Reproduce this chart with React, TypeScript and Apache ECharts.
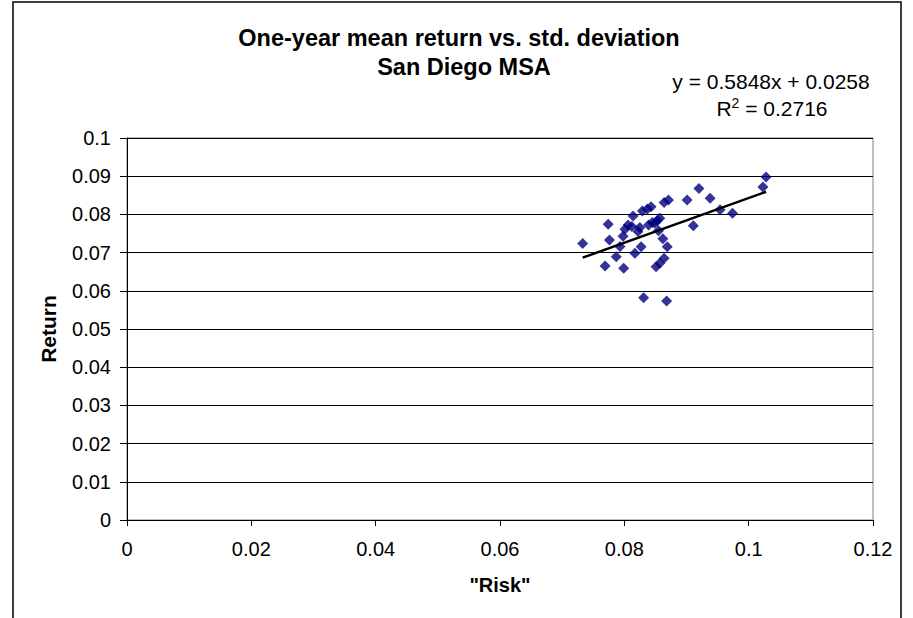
import React, { useEffect, useRef } from "react";
import * as echarts from "echarts";

const titleLines = ["One-year mean return vs. std. deviation", "San Diego MSA"];
const xAxisName = '"Risk"';
const yAxisName = "Return";
const riskValues = [
  0.0733, 0.0774, 0.0776, 0.0769, 0.0787, 0.0799, 0.0793, 0.0798, 0.0801, 0.0806,
  0.0814, 0.0817, 0.0825, 0.0827, 0.0822, 0.0829, 0.0837, 0.0843, 0.0839, 0.0849,
  0.0857, 0.0864, 0.0871, 0.0855, 0.0862, 0.0869, 0.0851, 0.0857, 0.0864, 0.0831,
  0.0868, 0.0901, 0.0920, 0.0938, 0.0911, 0.0954, 0.0974, 0.1023, 0.1028, 0.0812,
  0.0845, 0.0853,
];
const returnValues = [
  0.0724, 0.0774, 0.0733, 0.0665, 0.0689, 0.0659, 0.0716, 0.0743, 0.0761, 0.0772,
  0.0796, 0.0698, 0.0766, 0.0715, 0.0755, 0.0809, 0.0814, 0.0820, 0.0772, 0.0777,
  0.0790, 0.0831, 0.0838, 0.0757, 0.0736, 0.0715, 0.0663, 0.0672, 0.0685, 0.0582,
  0.0573, 0.0838, 0.0868, 0.0842, 0.0770, 0.0812, 0.0803, 0.0872, 0.0898, 0.0768,
  0.0779, 0.0784,
];
const trendSlope = 0.5848;
const trendIntercept = 0.0258;
const trendRange = [0.0733, 0.1028];
const equationText = "y = 0.5848x + 0.0258";
const r2Text = "0.2716";
const xTicks = [0, 0.02, 0.04, 0.06, 0.08, 0.1, 0.12];
const yTicks = [0, 0.01, 0.02, 0.03, 0.04, 0.05, 0.06, 0.07, 0.08, 0.09, 0.1];

export default function App() {
  const ref = useRef<HTMLDivElement>(null);
  useEffect(() => {
    if (!ref.current) return;
    const chart = echarts.init(ref.current, null, { renderer: "svg" });
    const font = "'Liberation Sans', Arial, sans-serif";
    const points = riskValues.map((x, i) => [x, returnValues[i]]);
    const trend = trendRange.map((x) => [x, trendSlope * x + trendIntercept]);
    chart.setOption({
      animation: false,
      backgroundColor: "#ffffff",
      grid: { left: 127, right: 40, top: 138, bottom: 98, show: true, borderColor: "#808080", borderWidth: 1 },
      graphic: [
        {
          type: "rect",
          shape: { x: 13, y: 2, width: 888, height: 630 },
          style: { fill: "none", stroke: "#000", lineWidth: 1.5 },
          silent: true,
        },
        {
          type: "text",
          x: 459,
          y: 38,
          style: { text: titleLines[0], font: `bold 23.5px ${font}`, fill: "#000", align: "center", verticalAlign: "middle" },
        },
        {
          type: "text",
          x: 464,
          y: 67,
          style: { text: titleLines[1], font: `bold 23.5px ${font}`, fill: "#000", align: "center", verticalAlign: "middle" },
        },
        {
          type: "text",
          x: 771,
          y: 81,
          style: { text: equationText, font: `21px ${font}`, fill: "#000", align: "center", verticalAlign: "middle" },
        },
        {
          type: "text",
          x: 772,
          y: 108,
          style: {
            text: "R{sup|2} = " + r2Text,
            font: `21px ${font}`,
            fill: "#000",
            align: "center",
            verticalAlign: "middle",
            rich: {
              sup: { fontSize: 14, verticalAlign: "top", padding: [0, 0, 10, 0], fontFamily: font },
            },
          },
        },
      ],
      xAxis: {
        type: "value",
        min: xTicks[0],
        max: xTicks[xTicks.length - 1],
        interval: 0.02,
        name: xAxisName,
        nameLocation: "middle",
        nameGap: 55,
        nameTextStyle: { fontFamily: font, fontSize: 20, fontWeight: "bold", color: "#000" },
        axisLine: { lineStyle: { color: "#000", width: 1 } },
        axisTick: { show: true, inside: false, length: 6, lineStyle: { color: "#000" } },
        axisLabel: { fontFamily: font, fontSize: 20, color: "#000", margin: 19, formatter: (v: number) => String(+v.toFixed(2)) },
        splitLine: { show: false },
      },
      yAxis: {
        type: "value",
        min: yTicks[0],
        max: yTicks[yTicks.length - 1],
        interval: 0.01,
        name: yAxisName,
        nameLocation: "middle",
        nameGap: 68,
        nameRotate: 90,
        nameTextStyle: { fontFamily: font, fontSize: 21, fontWeight: "bold", color: "#000" },
        axisLine: { show: true, lineStyle: { color: "#000", width: 1 } },
        axisTick: { show: true, inside: false, length: 7, lineStyle: { color: "#000" } },
        axisLabel: { fontFamily: font, fontSize: 20, color: "#000", margin: 16, formatter: (v: number) => String(+v.toFixed(2)) },
        splitLine: { show: true, lineStyle: { color: "#000", width: 1 } },
      },
      series: [
        {
          type: "scatter",
          data: points,
          symbol: "diamond",
          symbolSize: 11,
          itemStyle: { color: "#000080" },
          z: 3,
        },
        {
          type: "line",
          data: trend,
          symbol: "none",
          lineStyle: { color: "#000", width: 2.5 },
          z: 4,
        },
      ],
    });
    return () => chart.dispose();
  }, []);
  return <div ref={ref} style={{ position: "absolute", left: 0, top: 0, width: 913, height: 618 }} />;
}
